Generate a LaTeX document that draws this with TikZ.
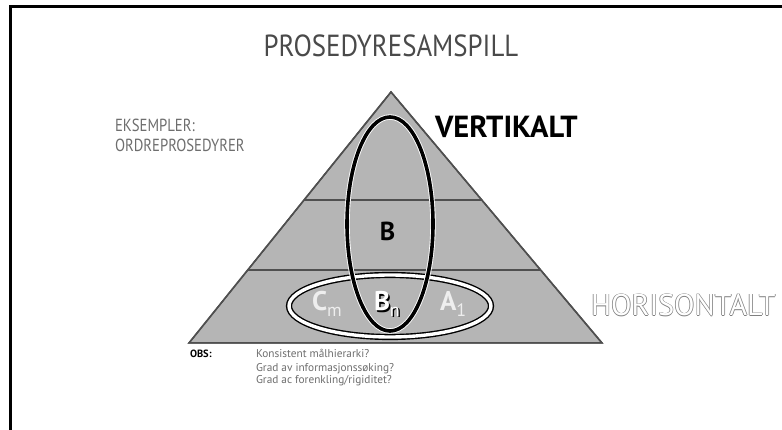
\documentclass[tikz,border=0pt]{standalone}
\usepackage{fontspec}
\setmainfont{PT Sans}
\newfontfamily\narrowfont[FakeStretch=0.88]{PT Sans}
\newfontfamily\slimfont[FakeStretch=0.84]{PT Sans}
\usetikzlibrary{calc}
\definecolor{pyrgray}{HTML}{B5B5B5}
\definecolor{edgegray}{HTML}{4F4F4F}
\definecolor{titlegray}{HTML}{4A4A4A}
\definecolor{notegray}{HTML}{6E6E6E}
\definecolor{lightletter}{HTML}{EEEEEE}
\newcommand{\sublow}[1]{\raisebox{-5.5pt}{\fontsize{18}{18}\selectfont\mdseries #1}}
\begin{document}
\begin{tikzpicture}[x=1pt,y=-1pt,
  frameline/.style={line width=3pt,black},
  pyramid/.style={fill=pyrgray,draw=edgegray,line width=1.5pt,line join=miter},
  tierline/.style={draw=edgegray,line width=2.2pt},
  hring/.style={draw=black,line width=1.4pt,double=white,double distance=3.4pt},
  vring/.style={draw=white,line width=0.9pt,double=black,double distance=3.6pt},
  txt/.style={inner sep=0pt,outer sep=0pt},
  cellletter/.style={txt,anchor=base west,font=\fontsize{27}{27}\selectfont\bfseries},
  outlinecopy/.style={txt,anchor=base west,text=black!50,font=\fontsize{30}{30}\selectfont},
  note/.style={txt,anchor=base west,text=notegray,font=\fontsize{11.3}{13}\selectfont}]
\useasboundingbox (0,0) rectangle (782,430);
\fill[white] (0,0) rectangle (782,430);
% open frame: only the top and left edges fall inside the page
\draw[frameline] (10,431) -- (10,7) -- (783,7);

% title
\node[txt,anchor=base,text=titlegray,font=\narrowfont\fontsize{30.5}{31}\selectfont] (title) at (391,57) {PROSEDYRESAMSPILL};

% pyramid with three tiers
\coordinate (apex) at (391,92);
\coordinate (bl) at (189,343);
\coordinate (br) at (602,343);
\fill[pyramid] (apex) -- (br) -- (bl) -- cycle;
\coordinate (t1l) at ($(apex)!0.43!(bl)$);
\coordinate (t1r) at ($(apex)!0.43!(br)$);
\coordinate (t2l) at ($(apex)!0.709!(bl)$);
\coordinate (t2r) at ($(apex)!0.709!(br)$);
\draw[tierline] (t1l) -- (t1r);
\draw[tierline] (t2l) -- (t2r);
\draw[draw=edgegray,line width=1.5pt,line join=miter] (apex) -- (br) -- (bl) -- cycle;

% horizontal and vertical groupings
\draw[hring] (390,306) ellipse [x radius=101, y radius=31];
\draw[vring] (390,224) ellipse [x radius=43, y radius=107];

% letters inside the pyramid
\node[cellletter,anchor=base,font=\fontsize{26}{26}\selectfont\bfseries] (b) at (387.5,241) {B};
\node[cellletter,text=lightletter] (cm) at (312,311) {C\sublow{m}};
\node[cellletter,text=black] (bnshadow) at (375.5,312.5) {B\sublow{n}};
\node[cellletter,text=white] (bn) at (374,311) {B\sublow{n}};
\node[cellletter,text=lightletter] (a1) at (440,311) {A\sublow{1}};

% side labels
\node[txt,anchor=base west,font=\fontsize{30.5}{31}\selectfont\bfseries] (vert) at (435,138) {VERTIKALT};
\foreach \dx/\dy in {-0.7/0,0.7/0,0/-0.7,0/0.7}
  \node[outlinecopy] at (591+\dx,316+\dy) {HORISONTALT};
\node[txt,anchor=base west,text=white,font=\fontsize{30}{30}\selectfont] (horis) at (591,316) {HORISONTALT};

\node[txt,anchor=base west,text=notegray,font=\slimfont\fontsize{17.5}{20}\selectfont] (eks) at (115,132) {EKSEMPLER:};
\node[txt,anchor=base west,text=notegray,font=\slimfont\fontsize{17.5}{20}\selectfont] (ordre) at (115,152) {ORDREPROSEDYRER};

% notes under the base
\node[txt,anchor=base west,font=\fontsize{10.5}{12}\selectfont\bfseries] (obs) at (190,357) {OBS:};
\node[note] (n1) at (256,357) {Konsistent målhierarki?};
\node[note] (n2) at (256,371) {Grad av informasjonssøking?};
\node[note] (n3) at (256,384) {Grad ac forenkling/rigiditet?};
\end{tikzpicture}
\end{document}
